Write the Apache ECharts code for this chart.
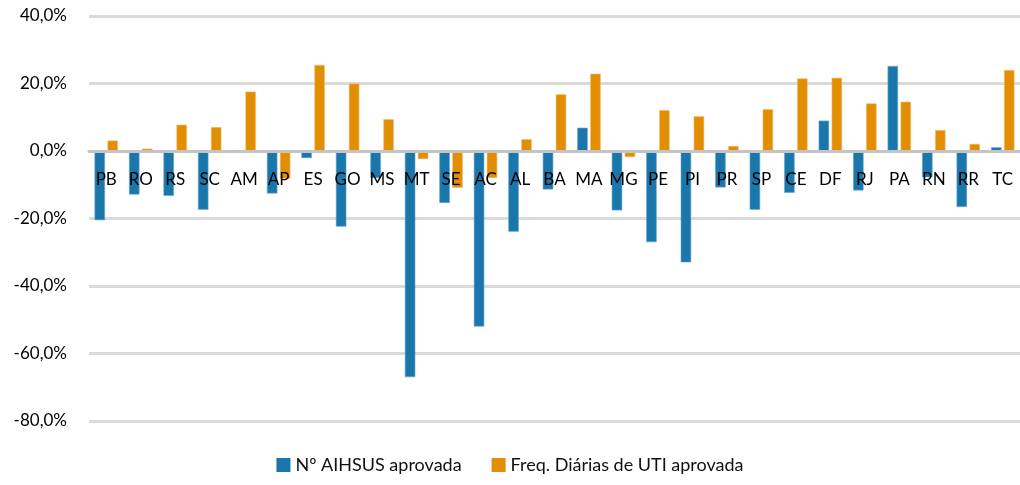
<!DOCTYPE html>
<html>
<head>
<meta charset="utf-8">
<script src="https://cdn.jsdelivr.net/npm/echarts@6/dist/echarts.min.js"></script>
<style>
  html, body { margin: 0; padding: 0; background: #fff; }
  #chart { width: 1020px; height: 485px; }
</style>
</head>
<body>
<div id="chart"></div>
<script>
const estados = ['PB', 'RO', 'RS', 'SC', 'AM', 'AP', 'ES', 'GO', 'MS', 'MT', 'SE', 'AC', 'AL', 'BA',
  'MA', 'MG', 'PE', 'PI', 'PR', 'SP', 'CE', 'DF', 'RJ', 'PA', 'RN', 'RR', 'TC']

// variação % (Nº AIHSUS aprovada)
const aihsus = [-20.5, -12.9, -13.3, -17.4, 0, -12.6, -2.1, -22.4, -8, -67, -15.4, -52, -23.9, -11.4,
  6.9, -17.6, -27, -33, -10.8, -17.4, -12.4, 9.0, -11.7, 25.2, -7.8, -16.6, 1.1]

// variação % (Freq. Diárias de UTI aprovada)
const diariasUti = [3.1, 0.7, 7.8, 7.1, 17.6, -8.2, 25.5, 20.0, 9.4, -2.4, -10.9, -8.0, 3.5, 16.8,
  22.9, -1.8, 12.1, 10.3, 1.5, 12.4, 21.5, 21.7, 14.1, 14.6, 6.2, 2.1, 24.0]

const yTicks = { min: -80, max: 40, interval: 20 }

const fonte = 'Lato, "Noto Sans", sans-serif'
const chart = echarts.init(document.getElementById('chart'))

// grid de 405px de altura (top 16); o eixo x fica na linha do zero
const gridTop = 16
const gridAltura = 405
const offsetZero = gridAltura * (0 - yTicks.min) / (yTicks.max - yTicks.min)

chart.setOption({
  animation: false,
  textStyle: { fontFamily: fonte },
  grid: { left: 89, right: 0, top: gridTop, height: gridAltura, containLabel: false },
  legend: {
    bottom: 6,
    left: 'center',
    itemWidth: 14,
    itemHeight: 14,
    itemGap: 30,
    icon: 'rect',
    itemStyle: { borderWidth: 0 },
    textStyle: { fontSize: 18, color: '#111', fontFamily: fonte },
    data: ['Nº AIHSUS aprovada', 'Freq. Diárias de UTI aprovada']
  },
  xAxis: {
    type: 'category',
    data: estados,
    z: 10,
    position: 'bottom',
    offset: -offsetZero,
    axisLine: { onZero: false, lineStyle: { color: '#c4c4c4', width: 3 } },
    axisTick: { show: false },
    axisLabel: { color: '#000', fontSize: 17, margin: 20, interval: 0, fontFamily: fonte }
  },
  yAxis: {
    type: 'value',
    min: yTicks.min,
    max: yTicks.max,
    interval: yTicks.interval,
    axisLine: { show: false },
    axisTick: { show: false },
    axisLabel: {
      color: '#000',
      fontSize: 17,
      margin: 22,
      fontFamily: fonte,
      formatter: v => v.toFixed(1).replace('.', ',') + '%'
    },
    splitLine: { lineStyle: { color: '#dadada', width: 3 } }
  },
  series: [
    {
      name: 'Nº AIHSUS aprovada',
      type: 'bar',
      data: aihsus,
      barGap: '24%',
      barCategoryGap: '32%',
      itemStyle: { color: '#1a77ac', borderColor: '#6aa6cc', borderWidth: 0.6 }
    },
    {
      name: 'Freq. Diárias de UTI aprovada',
      type: 'bar',
      data: diariasUti,
      barGap: '24%',
      barCategoryGap: '32%',
      itemStyle: { color: '#e28e03', borderColor: '#f2c070', borderWidth: 0.6 }
    }
  ]
})
</script>
</body>
</html>
